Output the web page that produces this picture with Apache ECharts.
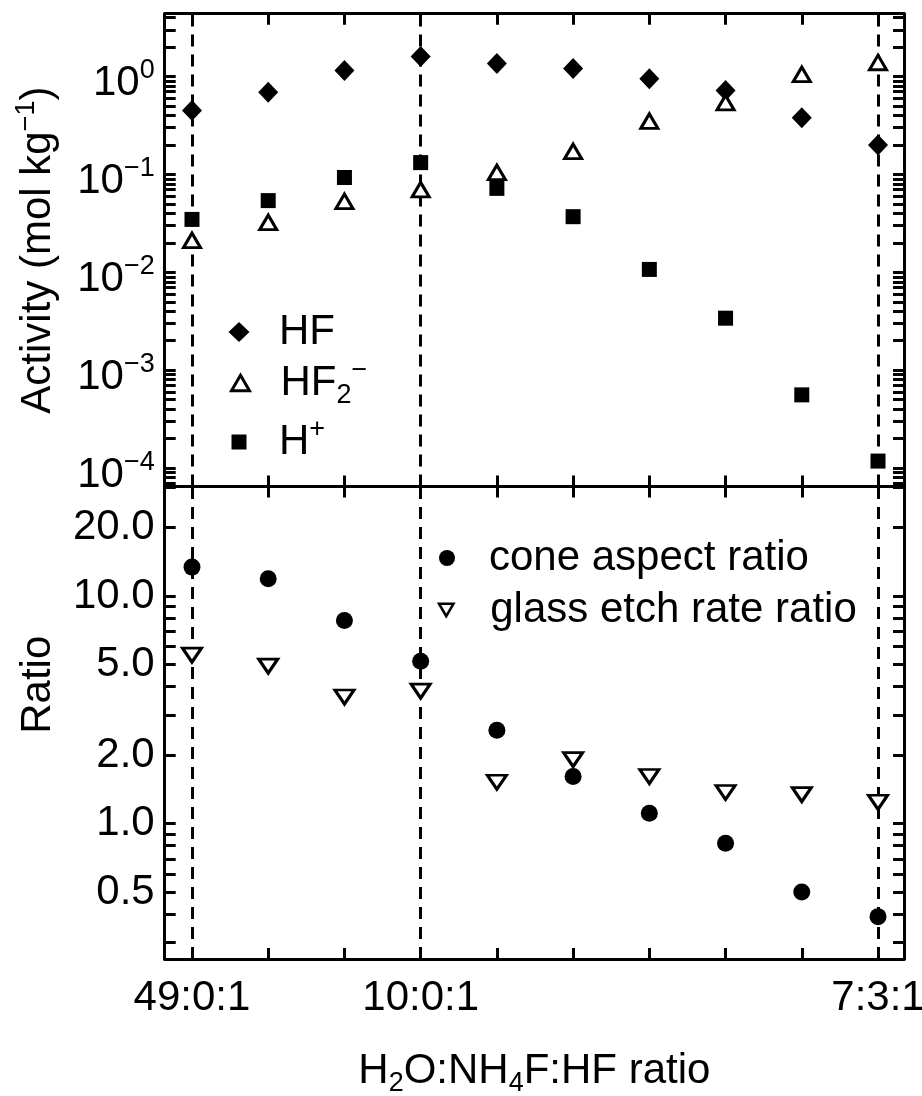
<!DOCTYPE html>
<html><head><meta charset="utf-8">
<script src="https://cdn.jsdelivr.net/npm/echarts@6/dist/echarts.min.js"></script>
<style>html,body{margin:0;padding:0;background:#fff}#c{width:922px;height:1096px}</style>
</head><body><div id="c"></div>
<script>
// ---- data ----
const compositionIndex = [0, 1, 2, 3, 4, 5, 6, 7, 8, 9];
const compositionLabels = ['49:0:1', '', '', '10:0:1', '', '', '', '', '', '7:3:1'];
const labeledCompositions = [0, 3, 9];
const dashedCompositions = [0, 3, 9];

const activityHF  = [0.45, 0.69, 1.15, 1.6, 1.36, 1.21, 0.95, 0.72, 0.38, 0.20];
const activityHF2 = [0.0212, 0.0324, 0.053, 0.070, 0.105, 0.172, 0.35, 0.54, 1.05, 1.39];
const activityH   = [0.0347, 0.054, 0.093, 0.132, 0.072, 0.037, 0.0107, 0.0034, 0.00056, 0.000118];

const coneAspectRatio = [13.4, 11.9, 7.8, 5.17, 2.57, 1.61, 1.11, 0.82, 0.50, 0.39];
const glassEtchRatio  = [5.5, 4.92, 3.6, 3.82, 1.52, 1.91, 1.61, 1.37, 1.34, 1.24];

const topMajorTicks = [1e-4, 1e-3, 1e-2, 1e-1, 1];
const bottomLabelTicks = [0.5, 1, 2, 5, 10, 20];
const bottomTickLabels = ['0.5', '1.0', '2.0', '5.0', '10.0', '20.0'];
const bottomAllTicks = [0.3, 0.4, 0.5, 0.6, 0.7, 0.8, 0.9, 1, 2, 3, 4, 5, 6, 7, 8, 9, 10, 20, 30];

// ---- axis ranges ----
const xMin = -0.358, xMax = 9.341;
const topMin = 6.49e-5, topMax = 4.38;
const botMin = 0.254, botMax = 30.3;

const topAllTicks = [];
for (let e = -5; e <= 0; e++) {
  for (let m = 1; m <= 9; m++) {
    const v = +(m * Math.pow(10, e)).toPrecision(6);
    if (v >= topMin && v <= topMax) topAllTicks.push(v);
  }
}

const FONT = '"Liberation Sans", Arial, Helvetica, sans-serif';
const FS = 42;
const LH = 52;
const rich = {
  t: { fontSize: FS, lineHeight: LH, fontFamily: FONT, color: '#000' },
  b: { fontSize: FS, lineHeight: LH, fontFamily: FONT, color: '#000' },
  sup: { fontSize: 27, lineHeight: 21, verticalAlign: 'top', fontFamily: FONT, color: '#000' },
  sub: { fontSize: 27, lineHeight: 21, verticalAlign: 'bottom', fontFamily: FONT, color: '#000' }
};

const lineStyle = { color: '#000', width: 3 };
function ticks(values) {
  return { show: true, inside: true, length: 11, customValues: values, lineStyle: { color: '#000', width: 3 } };
}
function xAxisDef(gridIndex, position, withLabels) {
  const a = {
    gridIndex, type: 'value', position, min: xMin, max: xMax,
    axisLine: { show: true, onZero: false, lineStyle },
    axisTick: ticks(compositionIndex),
    axisLabel: { show: false },
    splitLine: { show: false }
  };
  if (withLabels) {
    a.axisLabel = {
      show: true, customValues: labeledCompositions, margin: 18,
      fontSize: FS, fontFamily: FONT, color: '#000',
      formatter: v => compositionLabels[Math.round(v)]
    };
    a.name = '{t|H}{sub|2}{t|O:NH}{sub|4}{t|F:HF ratio}';
    a.nameLocation = 'middle';
    a.nameGap = 86;
    a.nameTextStyle = { rich };
  }
  return a;
}
function yAxisDef(gridIndex, position, min, max, allTicks, labelCfg, name, namePad) {
  const a = {
    gridIndex, type: 'log', logBase: 10, position, min, max,
    axisLine: { show: true, onZero: false, lineStyle },
    axisTick: ticks(allTicks),
    axisLabel: { show: false },
    splitLine: { show: false },
    minorTick: { show: false }
  };
  if (labelCfg) a.axisLabel = labelCfg;
  if (name) {
    a.name = name;
    a.nameLocation = 'middle';
    a.nameRotate = 90;
    a.nameGap = 100;
    a.nameTextStyle = { rich, padding: namePad };
  }
  return a;
}

const topLabel = {
  show: true, customValues: topMajorTicks, margin: 10, padding: [14, 0, 0, 0],
  formatter: v => {
    const e = Math.round(Math.log10(v));
    return '{b|10}{sup|' + (e < 0 ? '\u2212' + (-e) : e) + '}';
  },
  rich
};
const botLabel = {
  show: true, customValues: bottomLabelTicks, margin: 10,
  fontSize: FS, fontFamily: FONT, color: '#000',
  formatter: v => {
    const i = bottomLabelTicks.findIndex(t => Math.abs(t - v) / t < 1e-6);
    return i >= 0 ? bottomTickLabels[i] : '';
  }
};

const dashLine = {
  silent: true, z: 1, symbol: ['none', 'none'], label: { show: false },
  lineStyle: { type: [12, 8], width: 3, color: '#000' },
  emphasis: { disabled: true },
  data: dashedCompositions.map(v => ({ xAxis: v }))
};

const legendNames = {
  'HF': '{t|HF}',
  'HF2-': '{t|HF}{sub|2}{sup|\u2212}',
  'H+': '{t|H}{sup|+}',
  'cone aspect ratio': '{t|cone aspect ratio}',
  'glass etch rate ratio': '{t|glass etch rate ratio}'
};
// legend: icon centre x, text start x, centre y, icon w/h
function legendDef(name, iconCx, textX, centerY, w, h, extra, bw) {
  const left = iconCx - w / 2;
  const pad = textX - (left + w + 5);
  const d = Object.assign({ name }, extra || {});
  return {
    data: [d], orient: 'vertical', left, top: centerY - LH / 2 + 6,
    itemWidth: w, itemHeight: h, itemGap: 0, padding: 0, selectedMode: false,
    symbolKeepAspect: false,
    itemStyle: { borderWidth: bw || 3 },
    formatter: n => legendNames[n],
    textStyle: { rich, fontSize: FS, fontFamily: FONT, color: '#000', padding: [0, 0, 0, pad] }
  };
}

const chart = echarts.init(document.getElementById('c'), null, { renderer: 'canvas' });
chart.setOption({
  animation: false,
  backgroundColor: '#fff',
  textStyle: { fontFamily: FONT, color: '#000' },
  grid: [
    { left: 164.7, right: 922 - 904, top: 13.7, height: 486.5 - 13.7, containLabel: false, outerBoundsMode: 'none' },
    { left: 164.7, right: 922 - 904, top: 486.5, height: 959 - 486.5, containLabel: false, outerBoundsMode: 'none' }
  ],
  xAxis: [
    xAxisDef(0, 'bottom', false),
    xAxisDef(0, 'top', false),
    xAxisDef(1, 'bottom', true),
    xAxisDef(1, 'top', false)
  ],
  yAxis: [
    yAxisDef(0, 'left', topMin, topMax, topAllTicks, topLabel, '{t|Activity (mol kg}{sup|\u22121}{t|)}', 0),
    yAxisDef(0, 'right', topMin, topMax, topAllTicks, null, null),
    yAxisDef(1, 'left', botMin, botMax, bottomAllTicks, botLabel, '{t|Ratio}', [0, 0, 0, 76]),
    yAxisDef(1, 'right', botMin, botMax, bottomAllTicks, null, null)
  ],
  legend: [
    legendDef('HF', 239, 279, 331, 21, 20),
    legendDef('HF2-', 239, 279, 377, 18, 15.5),
    legendDef('H+', 239, 279, 436, 15, 15),
    legendDef('cone aspect ratio', 447, 489, 557, 16, 16),
    legendDef('glass etch rate ratio', 445, 489, 609, 14.5, 12.5, { icon: 'path://M0,0L20,0L10,17Z' }, 2.5)
  ],
  series: [
    {
      name: 'HF', type: 'scatter', xAxisIndex: 0, yAxisIndex: 0, z: 3,
      data: compositionIndex.map((x, i) => [x, activityHF[i]]),
      symbol: 'diamond', symbolSize: [20, 21],
      itemStyle: { color: '#000', opacity: 1 }, emphasis: { disabled: true },
      markLine: dashLine
    },
    {
      name: 'HF2-', type: 'scatter', xAxisIndex: 0, yAxisIndex: 0, z: 3,
      data: compositionIndex.map((x, i) => [x, activityHF2[i]]),
      symbol: 'triangle', symbolSize: [17, 14.5],
      itemStyle: { color: '#fff', borderColor: '#000', borderWidth: 3, opacity: 1 }, emphasis: { disabled: true }
    },
    {
      name: 'H+', type: 'scatter', xAxisIndex: 0, yAxisIndex: 0, z: 3,
      data: compositionIndex.map((x, i) => [x, activityH[i]]),
      symbol: 'rect', symbolSize: 15,
      itemStyle: { color: '#000', opacity: 1 }, emphasis: { disabled: true }
    },
    {
      name: 'cone aspect ratio', type: 'scatter', xAxisIndex: 2, yAxisIndex: 2, z: 3,
      data: compositionIndex.map((x, i) => [x, coneAspectRatio[i]]),
      symbol: 'circle', symbolSize: 17,
      itemStyle: { color: '#000', opacity: 1 }, emphasis: { disabled: true },
      markLine: dashLine
    },
    {
      name: 'glass etch rate ratio', type: 'scatter', xAxisIndex: 2, yAxisIndex: 2, z: 3,
      data: compositionIndex.map((x, i) => [x, glassEtchRatio[i]]),
      symbol: 'triangle', symbolRotate: 180, symbolSize: [19, 14],
      itemStyle: { color: '#fff', borderColor: '#000', borderWidth: 3, opacity: 1 }, emphasis: { disabled: true }
    }
  ]
});
</script>
</body></html>
